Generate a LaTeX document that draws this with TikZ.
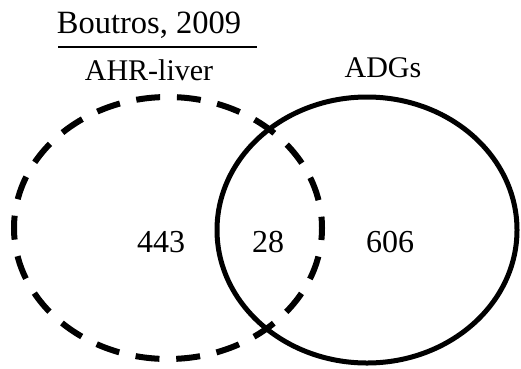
\documentclass[tikz,border=0pt]{standalone}
\usepackage{fontspec}
\setmainfont{Liberation Serif}
\begin{document}
\begin{tikzpicture}[x=1pt,y=-1pt,
  setA/.style={line width=6pt,dash pattern=on 24pt off 16.8pt,dash phase=12pt},
  setB/.style={line width=5pt},
  lbl/.style={font=\fontsize{30}{30}\selectfont,inner sep=0pt},
  num/.style={font=\fontsize{32}{32}\selectfont,inner sep=0pt}]
\useasboundingbox (0,0) rectangle (521,368);
% the two sets
\draw[setA] (168,228) ellipse [x radius=154, y radius=131];
\draw[setB] (367,230) ellipse [x radius=150, y radius=133];
% headings
\node[font=\fontsize{32.5}{32.5}\selectfont,inner sep=0pt,anchor=base] (src) at (149,33) {Boutros, 2009};
\coordinate (ulL) at (58,47);
\coordinate (ulR) at (257,47);
\draw[line width=2pt] (ulL) -- (ulR);
\node[lbl,anchor=base] (ahr) at (149,80) {AHR-liver};
\node[lbl,anchor=base] (adg) at (383,77) {ADGs};
% region counts
\node[num,anchor=base] (n1) at (161,252) {443};
\node[num,anchor=base] (n2) at (268,252) {28};
\node[num,anchor=base] (n3) at (390,252) {606};
\end{tikzpicture}
\end{document}
